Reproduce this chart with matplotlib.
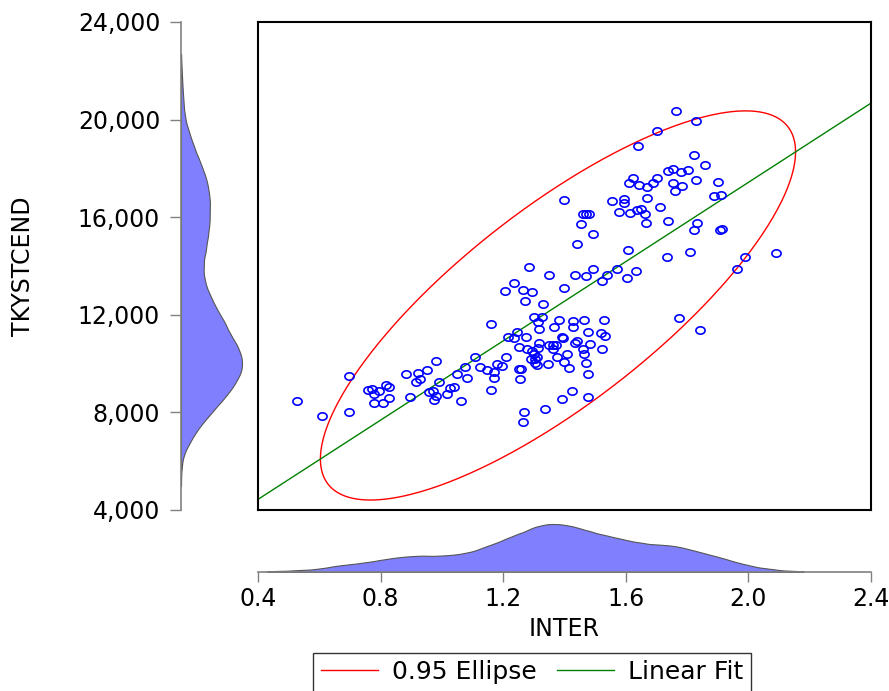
import numpy as np
import matplotlib.pyplot as plt
from matplotlib.path import Path

plt.rcParams['font.family'] = ['DejaVu Sans']

inter = [0.528, 0.608, 0.698, 0.698, 0.760, 0.773, 0.779, 0.794, 0.777, 0.808,
         0.818, 0.828, 0.827, 0.883, 0.897, 0.916, 0.922, 0.928, 0.951, 0.981,
         0.959, 0.971, 0.981, 0.975, 0.992, 1.016, 1.025, 1.040, 1.050, 1.061,
         1.076, 1.081, 1.107, 1.125, 1.146, 1.171, 1.171, 1.160, 1.181, 1.196,
         1.210, 1.216, 1.236, 1.244, 1.251, 1.252, 1.258, 1.255, 1.267, 1.266,
         1.277, 1.274, 1.295, 1.300, 1.291, 1.304, 1.311, 1.316, 1.313, 1.309,
         1.303, 1.335, 1.345, 1.350, 1.361, 1.372, 1.362, 1.376, 1.391, 1.396,
         1.399, 1.409, 1.415, 1.424, 1.391, 1.434, 1.440,
         1.609, 1.643, 1.668, 1.594, 1.554, 1.595, 1.398, 1.579, 1.614, 1.637,
         1.651, 1.664, 1.667, 1.460, 1.470, 1.479, 1.454, 1.493, 1.440, 1.608,
         1.284, 1.349, 1.434, 1.470, 1.494, 1.540, 1.570, 1.633, 1.604, 1.523,
         1.206, 1.235, 1.266, 1.295, 1.399, 1.271, 1.331, 1.160, 1.300, 1.326,
         1.314, 1.381, 1.365, 1.429, 1.465, 1.529, 1.429, 1.316, 1.476, 1.519,
         1.531, 1.484, 1.459, 1.465, 1.523, 1.470, 1.476, 1.476,
         1.763, 1.828, 1.703, 1.639, 1.822, 1.858, 1.624, 1.689, 1.703, 1.738,
         1.753, 1.779, 1.804, 1.828, 1.753, 1.783, 1.762, 1.902, 1.887, 1.912,
         1.669, 1.713, 1.738, 1.822, 1.833, 1.907, 1.913, 1.733, 1.808, 1.988,
         2.091, 1.962, 1.774, 1.842]
tkystcend = [8470, 7870, 9480, 8020, 8920, 8970, 8740, 8880, 8400, 8390,
             9120, 9040, 8580, 9560, 8620, 9230, 9600, 9380, 9750, 10110,
             8840, 8860, 8680, 8500, 9260, 8740, 9000, 9030, 9570, 8480,
             9860, 9420, 10260, 9860, 9730, 9660, 9420, 8910, 9970, 9890,
             10270, 11080, 11040, 11310, 10670, 9790, 9790, 9380, 8030, 7610,
             10590, 11090, 10530, 10390, 10180, 10180, 10260, 10830, 10650, 9930,
             10040, 8150, 10000, 10750, 10750, 10750, 10600, 10260, 11100, 11050,
             10080, 10380, 9810, 8880, 8550, 10860, 10940,
             17400, 17310, 17230, 16750, 16660, 16580, 16700, 16210, 16160, 16280,
             16340, 16140, 15750, 16120, 16120, 16120, 15710, 15320, 14890, 14660,
             13950, 13620, 13620, 13590, 13870, 13630, 13870, 13810, 13500, 13400,
             12990, 13290, 13030, 12920, 13090, 12550, 12430, 11610, 11920, 11900,
             11690, 11790, 11510, 11750, 11770, 11790, 11510, 11420, 11280, 11250,
             11120, 10800, 10600, 10390, 10610, 10040, 9560, 8630,
             20340, 19960, 19550, 18930, 18560, 18140, 17610, 17400, 17620, 17890,
             17990, 17870, 17930, 17540, 17410, 17270, 17070, 17440, 16880, 16900,
             16800, 16410, 15860, 15490, 15760, 15480, 15520, 14360, 14560, 14380,
             14520, 13870, 11880, 11370]

x_ticks = [0.4, 0.8, 1.2, 1.6, 2.0, 2.4]
y_ticks = [4000, 8000, 12000, 16000, 20000, 24000]
x_kde_range = (0.43, 2.18)
y_kde_range = (5000, 22700)

x = np.array(inter)
y = np.array(tkystcend)


def kde(data, grid, adj=1.0):
    # epanechnikov kernel, silverman bandwidth
    n = len(data)
    iqr = np.percentile(data, 75) - np.percentile(data, 25)
    s = min(data.std(ddof=1), iqr / 1.34)
    h = adj * 0.9 * 2.345 * s * n ** -0.2
    u = (grid[:, None] - data[None, :]) / h
    k = np.where(np.abs(u) < 1, 0.75 * (1 - u ** 2), 0.0)
    return k.sum(axis=1) / (n * h)


# slightly wide open-circle marker like the original
tt = np.linspace(0, 2 * np.pi, 40)
oval = Path(np.column_stack([np.cos(tt), 0.8 * np.sin(tt)]), closed=True)

W, H = 889, 691
FS = 17
fig = plt.figure(figsize=(W / 100, H / 100), dpi=100)
ax = fig.add_axes([258 / W, 1 - 510 / H, 613 / W, 488 / H])
axl = fig.add_axes([181 / W, 1 - 510 / H, 77 / W, 488 / H])
axb = fig.add_axes([258 / W, 1 - 572 / H, 613 / W, 57 / H])

# scatter
ax.plot(x, y, ls='none', marker=oval, ms=6.6, mfc='none', mec='#0000ff', mew=1.2, zorder=3)

# 0.95 ellipse
mu = np.array([x.mean(), y.mean()])
cov = np.cov(x, y)
L = np.linalg.cholesky(cov)
t = np.linspace(0, 2 * np.pi, 400)
circ = np.vstack([np.cos(t), np.sin(t)]) * np.sqrt(5.991)
ell = L @ circ + mu[:, None]
ax.plot(ell[0], ell[1], color='#ff0000', lw=1.0, label='0.95 Ellipse')

# linear fit
b, a = np.polyfit(x, y, 1)
xs = np.array([0.4, 2.4])
ax.plot(xs, a + b * xs, color='#008000', lw=1.0, label='Linear Fit')

ax.set_xlim(0.4, 2.4)
ax.set_ylim(4000, 24000)
ax.set_xticks([])
ax.set_yticks([])
for s in ax.spines.values():
    s.set_linewidth(1.5)
    s.set_color('black')

# left marginal density
gy = np.linspace(*y_kde_range, 300)
dy = kde(y, gy)
axl.fill_betweenx(gy, 0, dy, facecolor='#8080ff', edgecolor='#555555', lw=0.8)
axl.set_ylim(4000, 24000)
axl.set_xlim(0, dy.max() * 77 / 61)
axl.set_yticks(y_ticks)
axl.set_yticklabels(['{:,}'.format(v) for v in y_ticks], fontsize=FS)
axl.set_xticks([])
axl.tick_params(axis='y', length=8, width=1, color='#808080', pad=7)
for k in ['top', 'right', 'bottom']:
    axl.spines[k].set_visible(False)
axl.spines['left'].set_color('#808080')
axl.spines['left'].set_linewidth(1.2)
axl.patch.set_alpha(0)

# bottom marginal density
gx = np.linspace(*x_kde_range, 300)
dx = kde(x, gx, 0.9)
axb.fill_between(gx, 0, dx, facecolor='#8080ff', edgecolor='#555555', lw=0.8)
axb.set_xlim(0.4, 2.4)
axb.set_ylim(0, dx.max() * 57 / 48)
axb.set_xticks(x_ticks)
axb.set_xticklabels(['{:.1f}'.format(v) for v in x_ticks], fontsize=FS)
axb.set_yticks([])
axb.tick_params(axis='x', length=7, width=1, color='#808080', pad=4)
for k in ['top', 'right', 'left']:
    axb.spines[k].set_visible(False)
axb.spines['bottom'].set_color('#808080')
axb.spines['bottom'].set_linewidth(1.2)
axb.patch.set_alpha(0)

fig.text(23 / W, 1 - 266 / H, 'TKYSTCEND', rotation=90, ha='center', va='center', fontsize=FS)
fig.text(564 / W, 1 - 629 / H, 'INTER', ha='center', va='center', fontsize=FS)

leg = fig.legend(loc='center', bbox_to_anchor=(532 / W, 1 - 672 / H), ncol=2,
                 fontsize=18, frameon=True, fancybox=False, handlelength=2.3,
                 handletextpad=0.55, columnspacing=0.8, borderpad=0.3,
                 borderaxespad=0)
leg.get_frame().set_edgecolor('black')
leg.get_frame().set_linewidth(1.0)

fig.savefig('out.png', dpi=100)
